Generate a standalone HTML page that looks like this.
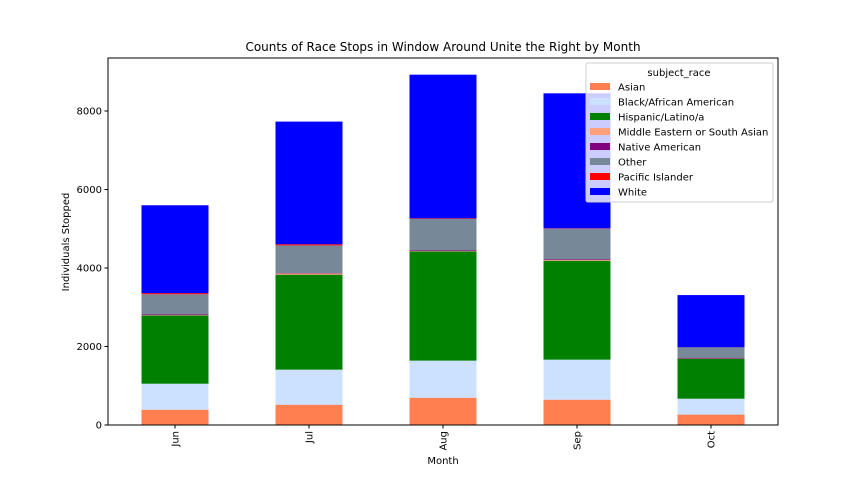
<!DOCTYPE html>
<html><head><meta charset="utf-8"><style>
body{margin:0;background:#fff;font-family:"Liberation Sans","DejaVu Sans",sans-serif;}
text{font-family:"DejaVu Sans","Liberation Sans",sans-serif;fill:#000;}
</style></head><body>
<svg id="chart" width="864" height="486" xmlns="http://www.w3.org/2000/svg">
<text x="443" y="51" font-size="12" text-anchor="middle">Counts of Race Stops in Window Around Unite the Right by Month</text>
<g id="bars"></g>
<g id="axes"></g>
<text transform="translate(69,242) rotate(-90)" font-size="10" text-anchor="middle">Individuals Stopped</text>
<text x="443" y="464" font-size="10" text-anchor="middle">Month</text>
<g id="legend"></g>
</svg>
<script>
const categories=["Jun","Jul","Aug","Sep","Oct"];
const races=["Asian","Black/African American","Hispanic/Latino/a","Middle Eastern or South Asian","Native American","Other","Pacific Islander","White"];
const colors=["#ff7f50","#cce0ff","#008000","#ffa07a","#800080","#778899","#ff0000","#0000ff"];
const asian=[390,517,695,645,265];
const black=[662,893,945,1020,405];
const hispanic=[1741,2420,2785,2520,1020];
const mideast=[10,30,10,20,5];
const native=[20,10,20,20,20];
const other=[507,705,795,775,260];
const pacific=[30,30,15,10,5];
const white=[2238,3125,3660,3440,1330];
const yTicks=[0,2000,4000,6000,8000];
const series=[asian,black,hispanic,mideast,native,other,pacific,white];
const NS="http://www.w3.org/2000/svg";
const L=108,R=778,T=58,B=425,YMAX=9350;
const y=v=>B-(v/YMAX)*(B-T);
const step=(R-L)/categories.length;
const xc=i=>L+step*(i+0.5);
const bw=step*0.5;
function mk(tag,attrs,parent){const e=document.createElementNS(NS,tag);for(const k in attrs)e.setAttribute(k,attrs[k]);parent.appendChild(e);return e;}
const bars=document.getElementById('bars');
categories.forEach((c,i)=>{let cum=0;series.forEach((s,j)=>{const v=s[i];
const r=mk('rect',{x:xc(i)-bw/2,y:y(cum+v),width:bw,height:y(cum)-y(cum+v),fill:colors[j]},bars);


cum+=v;});});
const ax=document.getElementById('axes');
mk('rect',{x:L,y:T,width:R-L,height:B-T,fill:'none',stroke:'#000','stroke-width':1},ax);
yTicks.forEach(t=>{mk('line',{x1:L-3.5,x2:L,y1:y(t),y2:y(t),stroke:'#000'},ax);
const tx=mk('text',{x:L-6,y:y(t)+3.5,'font-size':10,'text-anchor':'end'},ax);tx.textContent=t;

});
categories.forEach((c,i)=>{mk('line',{x1:xc(i),x2:xc(i),y1:B,y2:B+3.5,stroke:'#000'},ax);
const tx=mk('text',{transform:`translate(${xc(i)+3.5},${B+6}) rotate(-90)`,'font-size':10,'text-anchor':'end'},ax);tx.textContent=c;

});
const lg=document.getElementById('legend');
mk('rect',{x:586,y:63,width:187,height:139,rx:2,fill:'#fff','fill-opacity':0.8,stroke:'#ccc'},lg);
const lt=mk('text',{x:679,y:76,'font-size':10,'text-anchor':'middle'},lg);lt.textContent='subject_race';
races.forEach((r,j)=>{const yy=87+15*j;
mk('rect',{x:590,y:yy-4,width:20,height:7,fill:colors[j]},lg);
const t=mk('text',{x:618,y:yy+3.5,'font-size':10},lg);t.textContent=r;

});
</script>
</body></html>
